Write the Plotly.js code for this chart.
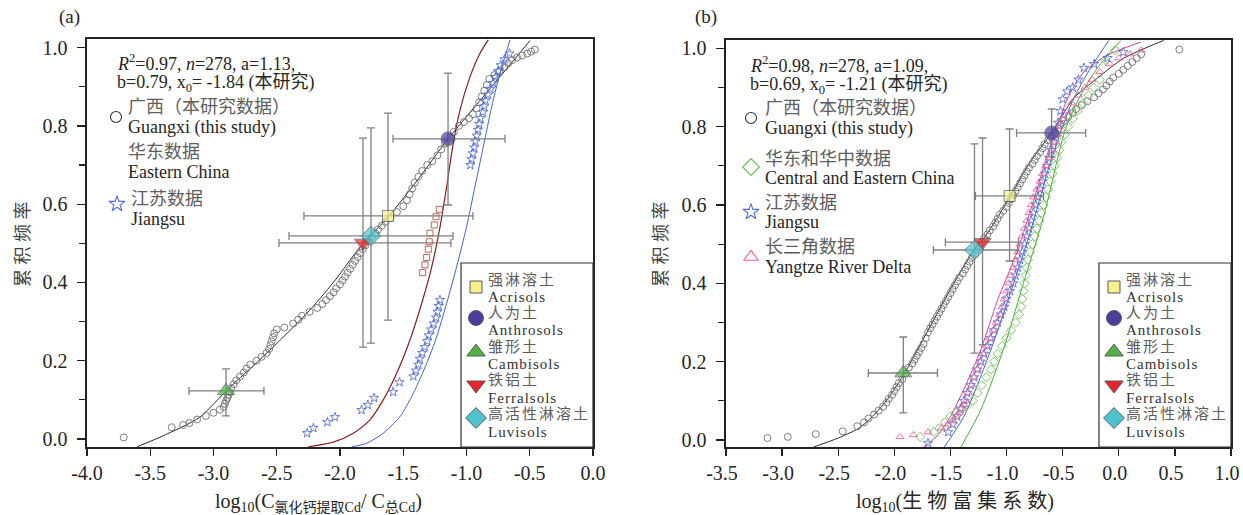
<!DOCTYPE html>
<html><head><meta charset="utf-8">
<script src="https://cdn.plot.ly/plotly-3.0.1.min.js"></script>
<style>html,body{margin:0;padding:0;background:#fff;}#chart{width:1243px;height:515px;}</style>
</head><body><div id="chart"></div>
<script>
// ---------------- DATA ----------------
// Panel (a): log10(C_CaCl2-Cd / C_total-Cd) vs cumulative frequency
const gxA_x = [-3.71,-3.33,-3.24,-3.19,-3.13,-3.06,-3.0,-2.95,-2.92,-2.91,-2.90,-2.89,-2.88,-2.87,-2.86,-2.84,-2.82,-2.79,-2.76,-2.74,-2.71,-2.66,-2.62,-2.58,-2.56,-2.55,-2.54,-2.53,-2.52,-2.5,-2.44,-2.37,-2.33,-2.3,-2.24,-2.18,-2.14,-2.11,-2.08,-2.05,-2.03,-2.0,-1.98,-1.96,-1.94,-1.92,-1.9,-1.88,-1.86,-1.84,-1.82,-1.8,-1.78,-1.75,-1.72,-1.7,-1.67,-1.64,-1.6,-1.55,-1.5,-1.47,-1.45,-1.43,-1.41,-1.38,-1.35,-1.31,-1.27,-1.23,-1.2,-1.17,-1.13,-1.1,-1.06,-1.02,-0.98,-0.95,-0.92,-0.9,-0.88,-0.86,-0.84,-0.82,-0.78,-0.74,-0.7,-0.67,-0.64,-0.6,-0.56,-0.52,-0.49,-0.46];
const gxA_y = [0.004,0.03,0.036,0.041,0.05,0.059,0.067,0.075,0.082,0.09,0.098,0.105,0.113,0.12,0.13,0.14,0.15,0.16,0.17,0.18,0.19,0.2,0.21,0.22,0.23,0.24,0.25,0.26,0.27,0.28,0.285,0.295,0.305,0.315,0.325,0.335,0.345,0.355,0.365,0.375,0.385,0.395,0.405,0.415,0.425,0.435,0.445,0.455,0.465,0.475,0.485,0.495,0.505,0.515,0.525,0.535,0.545,0.555,0.565,0.58,0.595,0.61,0.625,0.64,0.655,0.67,0.685,0.7,0.71,0.725,0.74,0.755,0.77,0.785,0.8,0.81,0.82,0.83,0.845,0.86,0.875,0.89,0.905,0.92,0.93,0.94,0.95,0.96,0.968,0.975,0.98,0.985,0.99,0.995];
const fitGxA_x = [-3.605,-3.4,-3.107,-2.9,-2.577,-2.26,-2.055,-1.818,-1.62,-1.368,-1.146,-0.869,-0.498];
const fitGxA_y = [-0.02,0.008,0.056,0.123,0.22,0.322,0.399,0.5,0.567,0.67,0.767,0.874,1.018];
const ecA_x = [-1.346,-1.328,-1.315,-1.302,-1.294,-1.289,-1.255,-1.241,-1.215];
const ecA_y = [0.425,0.445,0.464,0.485,0.504,0.526,0.547,0.568,0.587];
const fitEcA_x = [-2.25,-2.053,-1.895,-1.763,-1.658,-1.552,-1.447,-1.354,-1.275,-1.209,-1.157,-1.109,-1.051,-0.972,-0.893,-0.828];
const fitEcA_y = [-0.02,-0.008,0.015,0.049,0.1,0.168,0.253,0.347,0.44,0.543,0.645,0.747,0.841,0.926,0.986,1.02];
const jsA_x = [-2.26,-2.21,-2.10,-2.04,-1.83,-1.78,-1.73,-1.58,-1.53,-1.42,-1.40,-1.38,-1.37,-1.35,-1.33,-1.31,-1.30,-1.28,-1.26,-1.24,-1.23,-1.22,-1.21,-0.97,-0.96,-0.95,-0.94,-0.93,-0.92,-0.91,-0.90,-0.89,-0.87,-0.86,-0.85,-0.83,-0.81,-0.79,-0.77,-0.75,-0.73,-0.70,-0.66];
const jsA_y = [0.015,0.028,0.043,0.056,0.074,0.087,0.105,0.12,0.145,0.16,0.175,0.19,0.205,0.22,0.235,0.25,0.265,0.28,0.295,0.31,0.325,0.34,0.355,0.70,0.715,0.73,0.745,0.76,0.775,0.79,0.805,0.82,0.835,0.85,0.865,0.88,0.895,0.91,0.925,0.94,0.955,0.97,0.985];
const fitJsA_x = [-1.908,-1.789,-1.658,-1.526,-1.42,-1.315,-1.236,-1.157,-1.078,-0.999,-0.933,-0.867,-0.801,-0.735,-0.656];
const fitJsA_y = [-0.02,-0.011,0.015,0.057,0.117,0.193,0.261,0.347,0.44,0.543,0.645,0.747,0.849,0.935,1.02];
// soil types (panel a): mean and error-bar ends
const soilNamesCN = ['强淋溶土','人为土','雏形土','铁铝土','高活性淋溶土'];
const soilNamesEN = ['Acrisols','Anthrosols','Cambisols','Ferralsols','Luvisols'];
const soilA_x   = [-1.621,-1.146,-2.901,-1.818,-1.755];
const soilA_y   = [0.570,0.767,0.123,0.501,0.519];
const soilA_xLo = [-2.285,-1.581,-3.194,-2.482,-2.403];
const soilA_xHi = [-0.949,-0.696,-2.601,-1.123,-1.107];
const soilA_yLo = [0.304,0.598,0.059,0.235,0.245];
const soilA_yHi = [0.833,0.935,0.179,0.769,0.795];

// Panel (b): log10(bioconcentration factor) vs cumulative frequency
const gxB_x = [-3.13,-2.95,-2.70,-2.46,-2.33,-2.27,-2.23,-2.18,-2.14,-2.1,-2.07,-2.05,-2.02,-2.0,-1.98,-1.96,-1.93,-1.9,-1.87,-1.84,-1.82,-1.8,-1.78,-1.76,-1.74,-1.72,-1.7,-1.68,-1.66,-1.64,-1.62,-1.6,-1.58,-1.56,-1.54,-1.52,-1.5,-1.48,-1.46,-1.44,-1.42,-1.39,-1.37,-1.35,-1.33,-1.31,-1.28,-1.26,-1.24,-1.22,-1.2,-1.17,-1.15,-1.12,-1.1,-1.08,-1.06,-1.03,-1.0,-0.98,-0.96,-0.94,-0.92,-0.9,-0.88,-0.86,-0.84,-0.82,-0.8,-0.77,-0.75,-0.73,-0.7,-0.68,-0.66,-0.63,-0.6,-0.57,-0.54,-0.52,-0.49,-0.45,-0.41,-0.38,-0.33,-0.28,-0.22,-0.18,-0.14,-0.11,-0.08,-0.05,0.0,0.04,0.08,0.12,0.16,0.2,0.54];
const gxB_y = [0.005,0.008,0.015,0.022,0.035,0.045,0.055,0.065,0.075,0.085,0.095,0.105,0.115,0.125,0.135,0.145,0.155,0.17,0.185,0.195,0.205,0.215,0.225,0.235,0.245,0.26,0.275,0.285,0.295,0.305,0.315,0.325,0.335,0.345,0.355,0.365,0.375,0.385,0.395,0.405,0.415,0.425,0.435,0.445,0.455,0.465,0.475,0.485,0.495,0.505,0.515,0.525,0.535,0.545,0.555,0.565,0.575,0.585,0.595,0.605,0.615,0.625,0.635,0.645,0.655,0.665,0.675,0.685,0.695,0.705,0.715,0.725,0.735,0.745,0.755,0.765,0.775,0.785,0.795,0.805,0.815,0.825,0.835,0.845,0.855,0.865,0.875,0.885,0.895,0.905,0.915,0.925,0.935,0.945,0.955,0.965,0.975,0.985,0.997];
const fitGxB_x = [-2.72,-2.5,-2.3,-2.1,-1.92,-1.7,-1.47,-1.29,-1.19,-0.97,-0.80,-0.60,-0.40,-0.19,0.045,0.40];
const fitGxB_y = [-0.018,0.005,0.033,0.09,0.165,0.28,0.40,0.485,0.52,0.62,0.705,0.784,0.873,0.924,0.975,1.02];
const ceB_x = [-1.77,-1.65,-1.6,-1.55,-1.5,-1.45,-1.4,-1.35,-1.3,-1.26,-1.22,-1.18,-1.14,-1.11,-1.08,-1.04,-1.0,-0.96,-0.92,-0.89,-0.87,-0.86,-0.85,-0.84,-0.83,-0.82,-0.81,-0.79,-0.77,-0.75,-0.73,-0.71,-0.69,-0.67,-0.65,-0.63,-0.61,-0.59,-0.57,-0.55,-0.53,-0.51,-0.48,-0.45,-0.41,-0.37,-0.32,-0.27,-0.22,-0.17,-0.12,-0.03];
const ceB_y = [0.008,0.02,0.03,0.045,0.06,0.07,0.08,0.09,0.1,0.12,0.14,0.16,0.18,0.2,0.22,0.24,0.26,0.28,0.3,0.32,0.34,0.36,0.38,0.40,0.42,0.44,0.46,0.48,0.5,0.52,0.54,0.56,0.58,0.6,0.62,0.64,0.66,0.68,0.7,0.72,0.74,0.76,0.78,0.8,0.82,0.84,0.86,0.88,0.9,0.92,0.97,0.995];
const fitCeB_x = [-1.41,-1.23,-1.03,-0.85,-0.67,-0.473,-0.34,-0.19,0.018];
const fitCeB_y = [-0.02,0.077,0.23,0.40,0.57,0.796,0.88,0.95,1.02];
const jsB_x = [-1.70,-1.52,-1.48,-1.44,-1.41,-1.38,-1.35,-1.32,-1.29,-1.26,-1.23,-1.2,-1.17,-1.14,-1.11,-1.08,-1.05,-1.02,-1.0,-0.97,-0.94,-0.92,-0.9,-0.88,-0.86,-0.84,-0.82,-0.8,-0.78,-0.76,-0.74,-0.72,-0.7,-0.68,-0.66,-0.64,-0.62,-0.6,-0.58,-0.56,-0.54,-0.52,-0.5,-0.46,-0.41,-0.36,-0.31,-0.22,-0.1,0.04];
const jsB_y = [-0.008,0.02,0.04,0.06,0.08,0.1,0.12,0.14,0.16,0.18,0.2,0.22,0.24,0.26,0.28,0.3,0.32,0.34,0.36,0.38,0.40,0.42,0.44,0.46,0.48,0.5,0.52,0.54,0.56,0.58,0.6,0.62,0.64,0.66,0.68,0.7,0.72,0.74,0.76,0.78,0.81,0.84,0.87,0.89,0.90,0.92,0.95,0.96,0.975,0.99];
const fitJsB_x = [-1.56,-1.38,-1.14,-0.96,-0.79,-0.63,-0.518,-0.40,-0.25,-0.089];
const fitJsB_y = [-0.02,0.06,0.23,0.38,0.53,0.69,0.786,0.873,0.95,1.02];
const yrdB_x = [-1.95,-1.83,-1.70,-1.58,-1.52,-1.48,-1.45,-1.42,-1.40,-1.38,-1.36,-1.34,-1.31,-1.29,-1.26,-1.24,-1.21,-1.18,-1.15,-1.12,-1.09,-1.06,-1.04,-1.02,-1.0,-0.98,-0.96,-0.94,-0.92,-0.9,-0.88,-0.86,-0.84,-0.82,-0.8,-0.78,-0.76,-0.73,-0.7,-0.68,-0.65,-0.62,-0.59,-0.56,-0.55,-0.53,-0.5,-0.46,-0.42,-0.36,-0.3,-0.24,-0.17,-0.08,0.0,0.1,0.2];
const yrdB_y = [0.008,0.013,0.02,0.03,0.04,0.05,0.06,0.07,0.08,0.09,0.1,0.12,0.14,0.16,0.18,0.2,0.22,0.24,0.26,0.28,0.3,0.32,0.34,0.36,0.38,0.40,0.42,0.44,0.46,0.48,0.5,0.52,0.54,0.56,0.58,0.6,0.62,0.64,0.66,0.68,0.7,0.72,0.74,0.76,0.78,0.8,0.82,0.84,0.86,0.88,0.9,0.92,0.94,0.96,0.975,0.985,0.995];
const fitYrdB_x = [-1.74,-1.62,-1.50,-1.38,-1.23,-1.08,-0.90,-0.76,-0.625,-0.545,-0.455,-0.31,-0.098,0.196];
const fitYrdB_y = [-0.018,0.01,0.06,0.13,0.23,0.357,0.485,0.61,0.74,0.804,0.873,0.94,0.983,1.016];
const soilB_x   = [-0.973,-0.598,-1.920,-1.214,-1.286];
const soilB_y   = [0.623,0.784,0.171,0.505,0.485];
const soilB_xLo = [-1.277,-0.911,-2.232,-1.545,-1.652];
const soilB_xHi = [-0.670,-0.295,-1.616,-0.893,-0.902];
const soilB_yLo = [0.457,0.722,0.069,0.243,0.222];
const soilB_yHi = [0.794,0.845,0.263,0.771,0.756];

// tick labels
const xTickValsA = [-4.0,-3.5,-3.0,-2.5,-2.0,-1.5,-1.0,-0.5,0.0];
const xTickTextA = ['-4.0','-3.5','-3.0','-2.5','-2.0','-1.5','-1.0','-0.5','0.0'];
const xTickValsB = [-3.5,-3.0,-2.5,-2.0,-1.5,-1.0,-0.5,0.0,0.5,1.0];
const xTickTextB = ['-3.5','-3.0','-2.5','-2.0','-1.5','-1.0','-0.5','0.0','0.5','1.0'];
const yTickVals = [0,0.2,0.4,0.6,0.8,1.0];
const yTickText = ['0.0','0.2','0.4','0.6','0.8','1.0'];
const yMinorVals = [0.1,0.3,0.5,0.7,0.9];

// ---------------- STYLE / LAYOUT ----------------
const W = 1243, H = 515;
const FONT = "'Liberation Serif','Noto Sans CJK SC',serif";
const soilSymbols = ['square','circle','triangle-up','triangle-down','diamond'];
const soilColors = ['#f6f18a','#4b3f9d','#54b147','#e8232a','#4fc2cf'];
const soilSizes = [11,14,15,15,15];
const C_GX = '#6f6f6f', C_EC = '#b4544c', C_JS = '#5470d6', C_CE = '#6dbf50', C_YRD = '#f0619f';

function fitLine(x, y, color, xa, ya, w) {
  return {x, y, xaxis: xa, yaxis: ya, mode: 'lines', type: 'scatter', hoverinfo: 'skip',
          line: {color, width: w || 1, shape: 'spline', smoothing: 0.7}};
}
function pts(x, y, sym, color, size, xa, ya) {
  return {x, y, xaxis: xa, yaxis: ya, mode: 'markers', type: 'scatter', hoverinfo: 'skip',
          marker: {symbol: sym, size, color, line: {color, width: 0.9}}};
}
function diff(a, b) { return a.map((v, i) => v - b[i]); }
function soil(x, y, xLo, xHi, yLo, yHi, xa, ya) {
  return {x, y, xaxis: xa, yaxis: ya, mode: 'markers', type: 'scatter', hoverinfo: 'skip',
    marker: {symbol: soilSymbols, color: soilColors, size: soilSizes, line: {color: '#5a5a5a', width: 1}},
    error_x: {type: 'data', symmetric: false, array: diff(xHi, x), arrayminus: diff(x, xLo), color: '#808080', thickness: 1.3, width: 4},
    error_y: {type: 'data', symmetric: false, array: diff(yHi, y), arrayminus: diff(y, yLo), color: '#808080', thickness: 1.3, width: 4}};
}

const traces = [
  fitLine(fitGxA_x, fitGxA_y, '#2b2b2b', 'x', 'y', 1),
  fitLine(fitEcA_x, fitEcA_y, '#8a1f1f', 'x', 'y', 1.2),
  fitLine(fitJsA_x, fitJsA_y, '#3e63d8', 'x', 'y', 1),
  pts(gxA_x, gxA_y, 'circle-open', C_GX, 7, 'x', 'y'),
  pts(ecA_x, ecA_y, 'square-open', C_EC, 6, 'x', 'y'),
  pts(jsA_x, jsA_y, 'star-open', C_JS, 7, 'x', 'y'),
  soil(soilA_x, soilA_y, soilA_xLo, soilA_xHi, soilA_yLo, soilA_yHi, 'x', 'y'),

  fitLine(fitGxB_x, fitGxB_y, '#2b2b2b', 'x2', 'y2', 1),
  fitLine(fitCeB_x, fitCeB_y, '#4caf3a', 'x2', 'y2', 1),
  fitLine(fitJsB_x, fitJsB_y, '#3e63d8', 'x2', 'y2', 1),
  fitLine(fitYrdB_x, fitYrdB_y, '#e83d8d', 'x2', 'y2', 1),
  pts(gxB_x, gxB_y, 'circle-open', C_GX, 7, 'x2', 'y2'),
  pts(ceB_x, ceB_y, 'diamond-open', C_CE, 7, 'x2', 'y2'),
  pts(jsB_x, jsB_y, 'star-open', C_JS, 7, 'x2', 'y2'),
  pts(yrdB_x, yrdB_y, 'triangle-up-open', C_YRD, 7, 'x2', 'y2'),
  soil(soilB_x, soilB_y, soilB_xLo, soilB_xHi, soilB_yLo, soilB_yHi, 'x2', 'y2')
];

// legend symbols drawn on a pixel-coordinate overlay axis (x3/y3)
function legendPt(x, y, sym, color, size, fill) {
  return {x: [x], y: [y], xaxis: 'x3', yaxis: 'y3', mode: 'markers', type: 'scatter', hoverinfo: 'skip',
    marker: {symbol: sym, size, color: fill || color, line: {color: fill ? '#5a5a5a' : color, width: fill ? 1 : 1.1}}};
}
traces.push(legendPt(116, 117, 'circle-open', '#333', 11));
traces.push(legendPt(117, 204, 'star-open', C_JS, 12));
traces.push(legendPt(751, 118, 'circle-open', '#333', 11));
traces.push(legendPt(751, 167, 'diamond-open', C_CE, 13));
traces.push(legendPt(751, 212, 'star-open', C_JS, 12));
traces.push(legendPt(751, 257, 'triangle-up-open', C_YRD, 13));
const soilLegY = [287, 318, 352, 385, 418];
const soilCnY = [280, 313, 347, 380, 414];
const soilEnY = [297, 330, 364, 398, 432];
[476, 1114].forEach(lx => {
  soilSymbols.forEach((s, i) => traces.push(legendPt(lx, soilLegY[i], s, soilColors[i], soilSizes[i] + 1, soilColors[i])));
});

function ann(x, y, text, size, color, extra) {
  return Object.assign({xref: 'x3', yref: 'y3', x, y, text, showarrow: false, xanchor: 'left', yanchor: 'middle',
    borderpad: 0, font: {family: FONT, size, color}}, extra || {});
}
const EN = '#262626', CN = '#5e5e5e';
const annotations = [
  ann(69, 17, '(a)', 19, EN, {xanchor: 'center'}),
  ann(706, 17, '(b)', 19, EN, {xanchor: 'center'}),
  ann(116, 62, '<i>R</i><sup>2</sup>=0.97, <i>n</i>=278, a=1.13,', 18, EN),
  ann(116, 83, 'b=0.79, x<sub>0</sub>= -1.84 (本研究)', 18, EN),
  ann(127, 107, '广西（本研究数据）', 18, CN),
  ann(127, 127, 'Guangxi (this study)', 18, EN),
  ann(127, 152, '华东数据', 18, CN),
  ann(127, 172, 'Eastern China', 18, EN),
  ann(130, 199, '江苏数据', 18, CN),
  ann(130, 219, 'Jiangsu', 18, EN),
  ann(749, 64, '<i>R</i><sup>2</sup>=0.98, <i>n</i>=278, a=1.09,', 18, EN),
  ann(749, 85, 'b=0.69, x<sub>0</sub>= -1.21 (本研究)', 18, EN),
  ann(764, 108, '广西（本研究数据）', 18, CN),
  ann(764, 128, 'Guangxi (this study)', 18, EN),
  ann(764, 159, '华东和华中数据', 18, CN),
  ann(764, 178, 'Central and Eastern China', 18, EN),
  ann(764, 203, '江苏数据', 18, CN),
  ann(764, 222, 'Jiangsu', 18, EN),
  ann(764, 247, '长三角数据', 18, CN),
  ann(764, 267, 'Yangtze River Delta', 18, EN),
  ann(23, 244, '累 积 频 率', 18, '#444', {xanchor: 'center', textangle: -90}),
  ann(661, 244, '累 积 频 率', 18, '#444', {xanchor: 'center', textangle: -90}),
  ann(318, 502, 'log<sub>10</sub>(C<sub>氯化钙提取Cd</sub>/ C<sub>总Cd</sub>)', 20, EN, {xanchor: 'center'}),
  ann(955, 502, 'log<sub>10</sub>(生 物 富 集 系 数)', 20, EN, {xanchor: 'center'})
];
[487, 1125].forEach(tx => {
  soilNamesCN.forEach((t, i) => annotations.push(ann(tx, soilCnY[i], t, 15, CN)));
  soilNamesEN.forEach((t, i) => annotations.push(ann(tx, soilEnY[i], t, 15, '#333')));
});

const shapes = [
  {type: 'rect', xref: 'x3', yref: 'y3', x0: 461, x1: 593, y0: 263, y1: 447, line: {color: '#333', width: 1.2}, fillcolor: 'rgba(0,0,0,0)'},
  {type: 'rect', xref: 'x3', yref: 'y3', x0: 1099, x1: 1231, y0: 263, y1: 447, line: {color: '#333', width: 1.2}, fillcolor: 'rgba(0,0,0,0)'}
];

function xAxis(domain, range, vals, text, anchor, shift) {
  return {domain, range, anchor, tickmode: 'array', tickvals: vals, ticktext: text, ticks: 'outside', ticklen: 7,
    tickwidth: 1.3, tickcolor: '#222', showline: true, linecolor: '#222', linewidth: 1.6, mirror: true,
    showgrid: false, zeroline: false, tickfont: {family: FONT, size: 20, color: EN}, ticklabeloverflow: 'allow',
    ticklabelshift: shift || 0, fixedrange: true};
}
function yAxis(domain, range, anchor) {
  return {domain, range, anchor, tickmode: 'array', tickvals: yTickVals, ticktext: yTickText, ticks: 'outside', ticklen: 8,
    tickwidth: 1.3, tickcolor: '#222', showline: true, linecolor: '#222', linewidth: 1.6, mirror: true,
    minor: {tickmode: 'array', tickvals: yMinorVals, ticks: 'outside', ticklen: 6, tickwidth: 1.2, tickcolor: '#222'},
    showgrid: false, zeroline: false, tickfont: {family: FONT, size: 20, color: EN}, ticklabelstandoff: 6, ticklabeloverflow: 'allow', fixedrange: true};
}

const layout = {
  width: W, height: H, autosize: false, showlegend: false,
  margin: {l: 0, r: 0, t: 0, b: 0, pad: 0},
  paper_bgcolor: '#ffffff', plot_bgcolor: 'rgba(0,0,0,0)',
  xaxis: xAxis([87 / W, 593 / W], [-4, 0], xTickValsA, xTickTextA, 'y', 0),
  yaxis: yAxis([1 - 447 / H, 1 - 39 / H], [-0.0204, 1.0222], 'x'),
  xaxis2: xAxis([726 / W, 1231 / W], [-3.5, 1.0], xTickValsB, xTickTextB, 'y2', -4),
  yaxis2: yAxis([1 - 447 / H, 1 - 40 / H], [-0.0179, 1.0212], 'x2'),
  xaxis3: {domain: [0, 1], range: [0, W], visible: false, anchor: 'y3', fixedrange: true},
  yaxis3: {domain: [0, 1], range: [H, 0], visible: false, anchor: 'x3', fixedrange: true},
  annotations, shapes
};
Plotly.newPlot('chart', traces, layout, {staticPlot: true, displayModeBar: false}).then(gd => {
  // letter-spaced soil legend labels (as in the reference), keeping their left edge fixed
  const spacing = {};
  soilNamesEN.forEach(t => spacing[t] = 1);
  soilNamesCN.forEach(t => spacing[t] = 2);
  gd.querySelectorAll('text.annotation-text').forEach(el => {
    const t = el.textContent;
    if (spacing[t] === undefined) return;
    const before = el.getComputedTextLength();
    el.style.letterSpacing = spacing[t] + 'px';
    const after = el.getComputedTextLength();
    el.setAttribute('transform', 'translate(' + ((after - before) / 2) + ',0)');
  });
});
</script></body></html>
